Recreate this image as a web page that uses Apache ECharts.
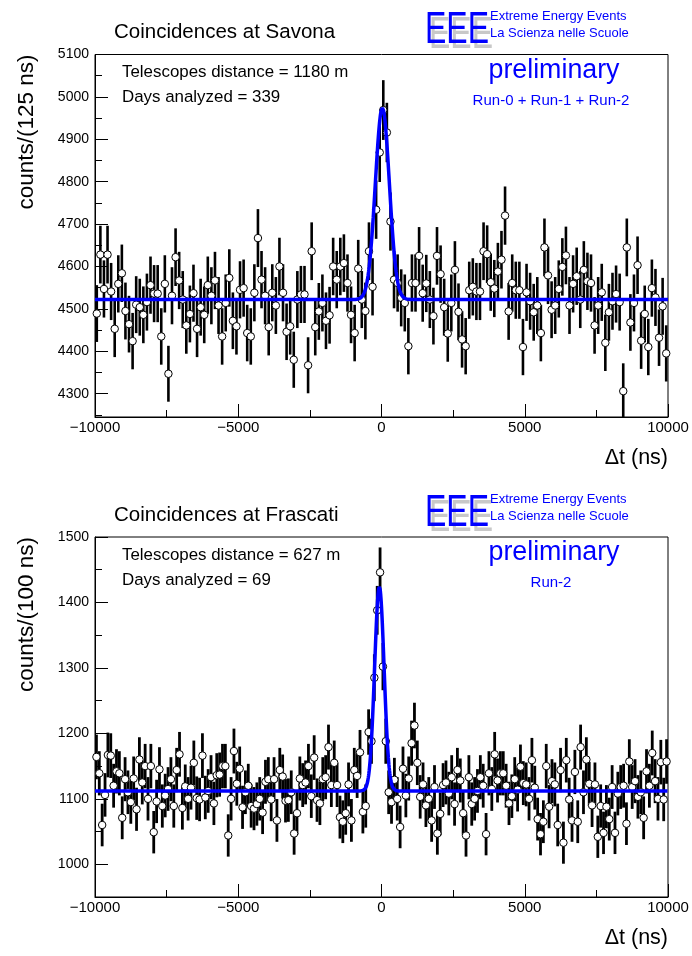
<!DOCTYPE html>
<html>
<head>
<meta charset="utf-8">
<script src="https://cdn.jsdelivr.net/npm/echarts@6/dist/echarts.min.js"></script>
<style>
  html, body { margin: 0; padding: 0; background: #fff; }
  #chart { width: 692px; height: 956px; }
</style>
</head>
<body>
<div id="chart"></div>
<script>
// ---- Savona: 160 bins of 125 ns between -10000 and 10000 ns ----
const savonaBinWidth = 125;
const savonaCounts = [
  4489, 4628, 4547, 4628, 4541, 4453, 4559, 4584, 4495, 4464,
  4424, 4510, 4504, 4486, 4516, 4556, 4536, 4536, 4435, 4559,
  4347, 4531, 4622, 4567, 4522, 4461, 4488, 4537, 4453, 4504,
  4486, 4556, 4531, 4567, 4508, 4435, 4514, 4573, 4472, 4459,
  4545, 4549, 4443, 4435, 4538, 4667, 4569, 4531, 4457, 4538,
  4508, 4600, 4538, 4446, 4459, 4380, 4522, 4534, 4534, 4367,
  4636, 4457, 4494, 4514, 4472, 4485, 4600, 4569, 4600, 4608,
  4561, 4486, 4443, 4595, 4522, 4495, 4636, 4552, 4734, 4869,
  4969, 4916, 4706, 4569, 4561, 4526, 4514, 4412, 4561, 4561,
  4625, 4537, 4560, 4522, 4483, 4625, 4582, 4504, 4442, 4514,
  4592, 4493, 4428, 4412, 4544, 4552, 4541, 4541, 4636, 4629,
  4563, 4548, 4588, 4616, 4720, 4494, 4561, 4544, 4544, 4410,
  4539, 4518, 4492, 4508, 4443, 4645, 4579, 4498, 4508, 4547,
  4599, 4626, 4508, 4559, 4577, 4522, 4592, 4565, 4561, 4461,
  4508, 4539, 4420, 4492, 4518, 4535, 4516, 4306, 4645, 4468,
  4514, 4603, 4425, 4488, 4410, 4549, 4527, 4432, 4506, 4395
];
// Gaussian + constant fit parameters
const savonaFit = { base: 4522, amp: 452, mean: 30, sigma: 245 };
const savonaYMajor = [4300, 4400, 4500, 4600, 4700, 4800, 4900, 5000, 5100];
const savonaYMinor = [4250, 4300, 4350, 4400, 4450, 4500, 4550, 4600, 4650, 4700,
                      4750, 4800, 4850, 4900, 4950, 5000, 5050, 5100];

// ---- Frascati: 200 bins of 100 ns between -10000 and 10000 ns ----
const frascatiBinWidth = 100;
const frascatiCounts = [
  1164, 1139, 1060, 1106, 1167, 1166, 1120, 1142, 1139, 1071,
  1130, 1110, 1095, 1131, 1084, 1160, 1125, 1150, 1100, 1150,
  1049, 1096, 1145, 1089, 1105, 1115, 1130, 1089, 1144, 1168,
  1086, 1119, 1100, 1117, 1155, 1101, 1099, 1166, 1102, 1112,
  1133, 1093, 1136, 1137, 1150, 1150, 1044, 1100, 1173, 1123,
  1146, 1087, 1110, 1120, 1089, 1085, 1092, 1100, 1079, 1126,
  1130, 1099, 1130, 1067, 1144, 1134, 1097, 1098, 1110, 1047,
  1078, 1131, 1121, 1125, 1150, 1104, 1163, 1098, 1093, 1130,
  1133, 1179, 1121, 1155, 1121, 1072, 1065, 1078, 1122, 1067,
  1144, 1135, 1171, 1080, 1089, 1202, 1188, 1285, 1388, 1446,
  1302, 1188, 1110, 1095, 1129, 1100, 1057, 1146, 1105, 1131,
  1185, 1212, 1155, 1103, 1122, 1090, 1100, 1067, 1118, 1047,
  1077, 1121, 1125, 1108, 1133, 1092, 1144, 1128, 1078, 1044,
  1133, 1092, 1100, 1112, 1133, 1120, 1046, 1139, 1115, 1168,
  1128, 1139, 1139, 1120, 1093, 1104, 1130, 1114, 1149, 1124,
  1122, 1100, 1159, 1117, 1069, 1046, 1065, 1150, 1088, 1127,
  1122, 1060, 1144, 1033, 1159, 1099, 1067, 1141, 1065, 1179,
  1110, 1160, 1123, 1090, 1122, 1042, 1089, 1048, 1088, 1069,
  1118, 1048, 1108, 1118, 1120, 1062, 1157, 1118, 1127, 1103,
  1110, 1071, 1142, 1120, 1170, 1127, 1100, 1156, 1099, 1157
];
const frascatiFit = { base: 1112, amp: 312, mean: -75, sigma: 165 };
const frascatiYMajor = [1000, 1100, 1200, 1300, 1400, 1500];
const frascatiYMinor = [950, 1000, 1050, 1100, 1150, 1200, 1250, 1300, 1350, 1400, 1450, 1500];

const xRange = [-10000, 10000];
const xTickStep = 5000;

// ---------------------------------------------------------------
const FONT = '"Liberation Sans", Arial, Helvetica, sans-serif';
const BLUE = '#0000ff';

function histPoints(counts, width) {
  return counts.map((c, i) => [xRange[0] + (i + 0.5) * width, c, Math.sqrt(c)]);
}
function fitCurve(p) {
  const pts = [];
  for (let t = xRange[0]; t <= xRange[1]; t += 10) {
    const z = (t - p.mean) / p.sigma;
    pts.push([t, p.base + p.amp * Math.exp(-0.5 * z * z)]);
  }
  return pts;
}
function fmtX(v) { return v < 0 ? '\u2212' + Math.abs(v) : String(v); }

const savonaPts = histPoints(savonaCounts, savonaBinWidth);
const frascatiPts = histPoints(frascatiCounts, frascatiBinWidth);

const yRanges = [[4245, 5100], [950, 1500]];
const barWidths = [2.6, 2.8];

function errorBars(gridIdx) {
  const [lo, hi] = yRanges[gridIdx];
  const w = barWidths[gridIdx];
  return function (params, api) {
    const x = api.value(0), y = api.value(1), e = api.value(2);
    const a = api.coord([x, Math.max(lo, y - e)]);
    const b = api.coord([x, Math.min(hi, y + e)]);
    return {
      type: 'line',
      shape: { x1: a[0], y1: a[1], x2: b[0], y2: b[1] },
      style: { stroke: '#000', lineWidth: w }
    };
  };
}

function xAxisFor(gridIndex) {
  return {
    gridIndex, type: 'value', min: xRange[0], max: xRange[1], interval: xTickStep,
    axisLine: { show: true, onZero: false, lineStyle: { color: '#000', width: 1 } },
    axisTick: { show: true, inside: true, length: 13, lineStyle: { color: '#000', width: 1 } },
    minorTick: { show: true, splitNumber: 2, length: 7, lineStyle: { color: '#000', width: 1 } },
    axisLabel: { color: '#000', fontFamily: FONT, fontSize: 15, margin: 3, formatter: fmtX },
    splitLine: { show: false }, minorSplitLine: { show: false }
  };
}
function yAxesFor(gridIndex, range, major, minor) {
  return [{
    gridIndex, type: 'value', min: range[0], max: range[1], position: 'left',
    axisLine: { show: true, onZero: false, lineStyle: { color: '#000', width: 1 } },
    axisTick: { show: true, inside: true, length: 13, customValues: major, lineStyle: { color: '#000', width: 1 } },
    axisLabel: { color: '#000', fontFamily: FONT, fontSize: 14, margin: 6, customValues: major,
                 formatter: v => String(v) },
    splitLine: { show: false }
  }, {
    gridIndex, type: 'value', min: range[0], max: range[1], position: 'left',
    axisLine: { show: false, onZero: false },
    axisTick: { show: true, inside: true, length: 7, customValues: minor, lineStyle: { color: '#000', width: 1 } },
    axisLabel: { show: false },
    splitLine: { show: false }
  }];
}

function panelSeries(pts, fit, gi) {
  return [{
    type: 'custom', xAxisIndex: gi, yAxisIndex: gi * 2, data: pts,
    dimensions: ['t', 'n', 'err'], encode: { x: 0, y: 1 },
    renderItem: errorBars(gi), z: 2, silent: true
  }, {
    type: 'scatter', xAxisIndex: gi, yAxisIndex: gi * 2,
    data: pts.map(p => [p[0], p[1]]),
    symbol: 'circle', symbolSize: 7.5,
    itemStyle: { color: '#fff', borderColor: '#000', borderWidth: 1, opacity: 1 },
    z: 3, silent: true
  }, {
    type: 'line', xAxisIndex: gi, yAxisIndex: gi * 2, data: fitCurve(fit),
    showSymbol: false, smooth: false,
    lineStyle: { color: BLUE, width: 3.5 }, z: 4, silent: true
  }];
}

function textEl(text, x, y, size, color, align, extra) {
  return Object.assign({
    type: 'text', x, y, z: 10,
    style: { text, font: size + 'px ' + FONT, fill: color, align: align || 'left', verticalAlign: 'middle' }
  }, extra || {});
}
function logo(x, y) {
  const big = '32px ' + FONT;
  return [
    { type: 'text', x: x + 4, y: y + 5, scaleY: 1.4, z: 9,
      style: { text: 'EEE', font: big, fill: '#c8c8c8', align: 'left', verticalAlign: 'top' } },
    { type: 'text', x: x, y: y, scaleY: 1.4, z: 10,
      style: { text: 'EEE', font: big, fill: BLUE, align: 'left', verticalAlign: 'top' } },
    textEl('Extreme Energy Events', x + 65, y + 8, 13, BLUE),
    textEl('La Scienza nelle Scuole', x + 65, y + 25, 13, BLUE)
  ];
}
function panelText(top, place, dist, days, runs, binLabel, gTop, gBottom) {
  return [
    textEl('Coincidences at ' + place, 114, top, 20.5, '#000'),
    textEl('Telescopes distance = ' + dist + ' m', 122, gTop + 18, 16.9, '#000'),
    textEl('Days analyzed = ' + days, 122, gTop + 43, 16.9, '#000'),
    textEl('preliminary', 554, gTop + 16, 26.8, BLUE, 'center'),
    textEl(runs, 551, gTop + 46, 15, BLUE, 'center'),
    textEl('\u0394t (ns)', 668, gBottom + 41, 21.5, '#000', 'right'),
    textEl('counts/(' + binLabel + ' ns)', 27, gTop, 22.5, '#000', 'right', { rotation: Math.PI / 2 })
  ].concat(logo(425, top - 24));
}

const grids = [
  { left: 95, top: 54.5, width: 573, height: 362.5 },
  { left: 95, top: 537, width: 573, height: 360 }
].map(g => Object.assign(g, { show: true, borderColor: '#000', borderWidth: 1, backgroundColor: 'transparent', containLabel: false, outerBoundsMode: 'none' }));

const chart = echarts.init(document.getElementById('chart'), null, { renderer: 'canvas' });
chart.setOption({
  animation: false,
  backgroundColor: '#fff',
  grid: grids,
  xAxis: [xAxisFor(0), xAxisFor(1)],
  yAxis: yAxesFor(0, yRanges[0], savonaYMajor, savonaYMinor)
    .concat(yAxesFor(1, yRanges[1], frascatiYMajor, frascatiYMinor)),
  series: panelSeries(savonaPts, savonaFit, 0).concat(panelSeries(frascatiPts, frascatiFit, 1)),
  graphic: panelText(32, 'Savona', 1180, 339, 'Run-0 + Run-1 + Run-2', savonaBinWidth, 54.5, 417)
    .concat(panelText(515, 'Frascati', 627, 69, 'Run-2', frascatiBinWidth, 537, 897))
});
</script>
</body>
</html>
